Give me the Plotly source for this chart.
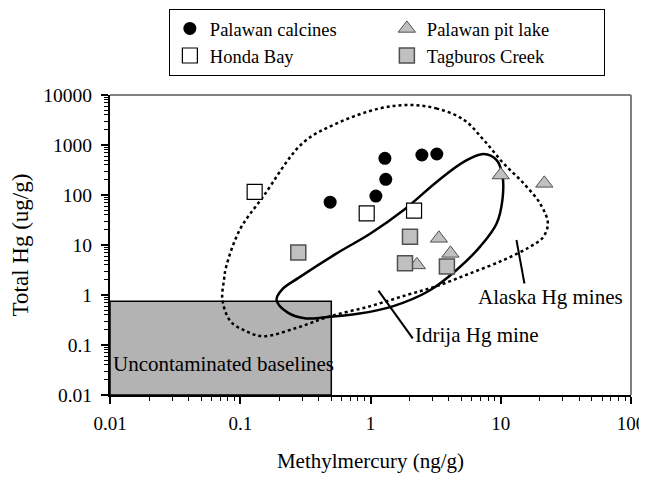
import plotly.graph_objects as go

# ---- data ----
calc_x = [1.29, 1.31, 1.10, 0.49, 2.48, 3.23]
calc_y = [541, 206, 95, 72, 631, 661]

pit_x = [10.0, 21.6, 3.35, 4.11, 2.27]
pit_y = [251, 171, 13.6, 6.8, 4.0]

honda_x = [0.129, 0.935, 2.16]
honda_y = [116, 43, 48.6]

tag_x = [0.279, 2.01, 1.84, 3.86]
tag_y = [7.1, 14.7, 4.3, 3.7]

# uncontaminated baseline box corners
base_x = [0.01, 0.5, 0.5, 0.01, 0.01]
base_y = [0.01, 0.01, 0.75, 0.75, 0.01]

# Idrija field (solid outline)
idr_x = [7.4, 9.3, 10.3, 10.3, 9.3, 7.0, 4.6, 2.8, 1.5, 0.8, 0.45, 0.32, 0.23, 0.19,
         0.21, 0.28, 0.55, 1.0, 1.8, 3.2, 5.2, 7.4]
idr_y = [660, 500, 250, 80, 27, 9.5, 3.2, 1.2, 0.6, 0.42, 0.36, 0.34, 0.45, 0.8,
         1.3, 2.2, 6.8, 17, 50, 180, 460, 660]

# Alaska field (dotted outline)
ala_x = [2.0, 3.2, 5.2, 7.4, 10.5, 15, 20, 23, 21, 16.5, 10.5, 5.8, 3.2, 1.9, 1.0,
         0.48, 0.27, 0.15, 0.11, 0.084, 0.073, 0.075, 0.078, 0.099, 0.15, 0.30, 0.55, 1.18, 2.0]
ala_y = [6300, 5400, 3200, 1260, 430, 170, 68, 27, 14, 9, 5, 2.7, 1.5, 1.0, 0.6,
         0.37, 0.22, 0.15, 0.19, 0.3, 0.8, 2.0, 3.7, 20, 93, 1080, 2700, 5400, 6300]

# label pointer lines
idr_ptr_x = [1.15, 2.11]
idr_ptr_y = [1.22, 0.136]
ala_ptr_x = [13.2, 15.2]
ala_ptr_y = [12.6, 1.7]

x_ticks = [0.01, 0.1, 1, 10, 100]
x_ticktext = ["0.01", "0.1", "1", "10", "100"]
y_ticks = [0.01, 0.1, 1, 10, 100, 1000, 10000]
y_ticktext = ["0.01", "0.1", "1", "10", "100", "1000", "10000"]

FONT = "Liberation Serif"

fig = go.Figure()

fig.add_trace(go.Scatter(x=base_x, y=base_y, mode="lines", fill="toself",
                         fillcolor="#b3b3b3", line=dict(color="black", width=1.5),
                         showlegend=False, hoverinfo="skip"))
fig.add_trace(go.Scatter(x=ala_x, y=ala_y, mode="lines",
                         line=dict(color="black", width=2.5, dash="dot", shape="spline", smoothing=1),
                         showlegend=False, hoverinfo="skip"))
fig.add_trace(go.Scatter(x=idr_x, y=idr_y, mode="lines",
                         line=dict(color="black", width=2.5, shape="spline", smoothing=1),
                         showlegend=False, hoverinfo="skip"))
fig.add_trace(go.Scatter(x=idr_ptr_x, y=idr_ptr_y, mode="lines",
                         line=dict(color="black", width=2), showlegend=False, hoverinfo="skip"))
fig.add_trace(go.Scatter(x=ala_ptr_x, y=ala_ptr_y, mode="lines",
                         line=dict(color="black", width=2), showlegend=False, hoverinfo="skip"))

fig.add_trace(go.Scatter(x=calc_x, y=calc_y, mode="markers", name="Palawan calcines",
                         marker=dict(symbol="circle", size=13, color="black")))
fig.add_trace(go.Scatter(x=pit_x, y=pit_y, mode="markers", name="Palawan pit lake",
                         marker=dict(symbol="triangle-up", size=15, color="#c0c0c0",
                                     line=dict(color="#505050", width=1))))
fig.add_trace(go.Scatter(x=honda_x, y=honda_y, mode="markers", name="Honda Bay",
                         marker=dict(symbol="square", size=15, color="white",
                                     line=dict(color="black", width=1.2))))
fig.add_trace(go.Scatter(x=tag_x, y=tag_y, mode="markers", name="Tagburos Creek",
                         marker=dict(symbol="square", size=15, color="#c0c0c0",
                                     line=dict(color="#505050", width=1.5))))

x_minor = [k * 10.0 ** n for n in range(-2, 2) for k in range(2, 10)]
y_minor = [k * 10.0 ** n for n in range(-2, 4) for k in range(2, 10)]

fig.update_xaxes(type="log", range=[-2, 2], tickvals=x_ticks, ticktext=x_ticktext,
                 ticks="outside", ticklen=7, tickwidth=1.5, tickcolor="black",
                 ticklabelstandoff=3,
                 showline=True, linecolor="black", linewidth=2, showgrid=False, zeroline=False,
                 tickfont=dict(family=FONT, size=19, color="black"),
                 minor=dict(tickvals=x_minor, ticks="outside", ticklen=4, tickwidth=1.2,
                            tickcolor="black", showgrid=False),
                 title=dict(text="Methylmercury (ng/g)", font=dict(family=FONT, size=21, color="black"),
                            standoff=21))
fig.update_yaxes(type="log", range=[-2, 4], tickvals=y_ticks, ticktext=y_ticktext,
                 ticks="outside", ticklen=7, tickwidth=1.5, tickcolor="black",
                 ticklabelstandoff=5,
                 showline=True, linecolor="black", linewidth=2, showgrid=False, zeroline=False,
                 tickfont=dict(family=FONT, size=19.5, color="black"),
                 minor=dict(tickvals=y_minor, ticks="outside", ticklen=4, tickwidth=1.2,
                            tickcolor="black", showgrid=False),
                 title=dict(text="Total Hg (ug/g)", font=dict(family=FONT, size=23, color="black"),
                            standoff=16))

# page body adds an 8px margin, so the figure is 8px smaller on each side
fig.update_layout(
    width=639, height=469,
    margin=dict(l=102, r=16, t=87, b=82, autoexpand=False),
    plot_bgcolor="white", paper_bgcolor="white",
    font=dict(family=FONT, size=18, color="black"),
    legend=dict(orientation="h", x=0.113, xanchor="left", y=1.287, yanchor="top",
                bordercolor="black", borderwidth=1, bgcolor="white",
                entrywidth=172, entrywidthmode="pixels", itemwidth=30,
                font=dict(family=FONT, size=18.5, color="black"), tracegroupgap=0),
    shapes=[
        dict(type="line", xref="paper", yref="paper", x0=0, x1=1, y0=1, y1=1,
             line=dict(color="#808080", width=2)),
        dict(type="line", xref="paper", yref="paper", x0=1, x1=1, y0=0, y1=1,
             line=dict(color="#808080", width=2)),
    ],
    annotations=[
        dict(text="Uncontaminated baselines", x=-2, y=-1.37, xref="x", yref="y",
             xanchor="left", yanchor="middle", xshift=1, showarrow=False,
             font=dict(family=FONT, size=21, color="black")),
        dict(text="Idrija Hg mine", x=0.325, y=-0.80, xref="x", yref="y",
             xanchor="left", yanchor="middle", showarrow=False,
             font=dict(family=FONT, size=21, color="black")),
        dict(text="Alaska Hg mines", x=0.81, y=-0.04, xref="x", yref="y",
             xanchor="left", yanchor="middle", showarrow=False,
             font=dict(family=FONT, size=21, color="black")),
    ],
)

fig.write_html("out.html")
